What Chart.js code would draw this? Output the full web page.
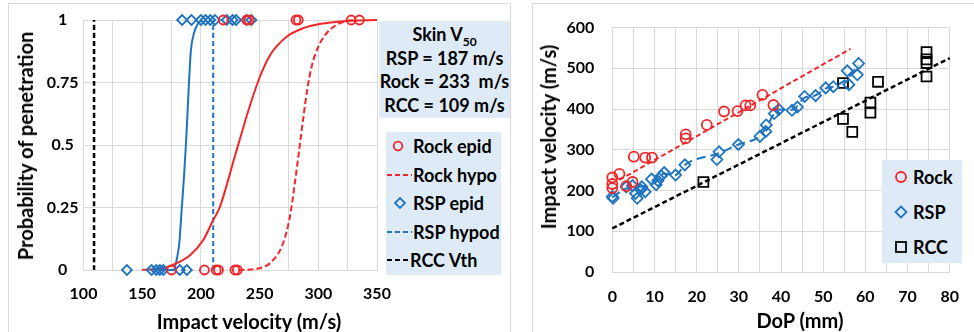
<!DOCTYPE html>
<html>
<head>
<meta charset="utf-8">
<script src="https://cdn.jsdelivr.net/npm/chart.js@4.4.1/dist/chart.umd.min.js"></script>
<style>
  body { margin:0; width:974px; height:332px; overflow:hidden; background:#fff;
         font-family: Lato, "Open Sans", sans-serif; font-weight:bold; color:#000; }
  .frame { position:absolute; border:1px solid #d9d9d9; box-sizing:border-box; }
  canvas { position:absolute; top:0; }
  .txt { position:absolute; white-space:nowrap; font-size:20px; }
  .rot { transform: translate(-50%,-50%) rotate(-90deg); }
  .ctr { transform: translate(-50%,-50%); }
  .box { position:absolute; background:#deebf7; }
  .row { position:absolute; white-space:nowrap; font-size:18px; line-height:20px; }
  .row svg { position:absolute; }
</style>
</head>
<body>
<div class="frame" style="left:8px;top:3px;width:503px;height:340px"></div>
<div class="frame" style="left:532px;top:3px;width:450px;height:340px"></div>

<canvas id="leftChart" width="520" height="332" style="left:0"></canvas>
<canvas id="rightChart" width="442" height="332" style="left:532px"></canvas>

<!-- axis titles -->
<div class="txt rot" style="left:25px;top:146px">Probability of penetration</div>
<div class="txt ctr" style="left:249px;top:321px">Impact velocity (m/s)</div>
<div class="txt rot" style="left:548px;top:137px">Impact velocity (m/s)</div>
<div class="txt ctr" style="left:800px;top:320px">DoP (mm)</div>

<!-- skin V50 box -->
<div class="box" style="left:379px;top:21px;width:131px;height:97px;text-align:center;font-size:18px;line-height:23.5px;padding-top:2px;box-sizing:border-box">
  Skin V<sub style="font-size:12px;line-height:0">50</sub><br>RSP = 187 m/s<br>Rock = 233&nbsp; m/s<br>RCC = 109 m/s
</div>

<!-- left legend -->
<div class="box" style="left:386px;top:132px;width:115px;height:143px"></div>
<div class="row" style="left:413px;top:136px">Rock epid
  <svg width="12" height="12" style="left:-21px;top:4px"><circle cx="6" cy="6" r="4.3" fill="none" stroke="#f0262a" stroke-width="1.8"/></svg></div>
<div class="row" style="left:413px;top:165px">Rock hypo
  <svg width="25" height="4" style="left:-26px;top:8px"><line x1="0" y1="2" x2="25" y2="2" stroke="#f0262a" stroke-width="2" stroke-dasharray="5,3"/></svg></div>
<div class="row" style="left:413px;top:193px">RSP epid
  <svg width="12" height="12" style="left:-19px;top:4px"><polygon points="6,1 11,6 6,11 1,6" fill="none" stroke="#1f74c0" stroke-width="1.8"/></svg></div>
<div class="row" style="left:413px;top:222px">RSP hypod
  <svg width="25" height="4" style="left:-26px;top:8px"><line x1="0" y1="2" x2="25" y2="2" stroke="#1f74c0" stroke-width="2" stroke-dasharray="5,3"/></svg></div>
<div class="row" style="left:410px;top:250px">RCC Vth
  <svg width="22" height="4" style="left:-23px;top:8px"><line x1="0" y1="2" x2="22" y2="2" stroke="#000" stroke-width="2" stroke-dasharray="5,3"/></svg></div>

<!-- right legend -->
<div class="box" style="left:882px;top:160px;width:80px;height:103px"></div>
<div class="row" style="left:913px;top:167px">Rock
  <svg width="14" height="14" style="left:-19px;top:3px"><circle cx="7" cy="7" r="5" fill="none" stroke="#f0262a" stroke-width="1.8"/></svg></div>
<div class="row" style="left:913px;top:202px">RSP
  <svg width="14" height="14" style="left:-19px;top:3px"><polygon points="7,1.5 12.5,7 7,12.5 1.5,7" fill="none" stroke="#1f74c0" stroke-width="1.8"/></svg></div>
<div class="row" style="left:913px;top:237px">RCC
  <svg width="14" height="14" style="left:-19px;top:3px"><rect x="2" y="2" width="10" height="10" fill="none" stroke="#000" stroke-width="1.8"/></svg></div>

<script>
// ---- left chart: probability of penetration vs impact velocity ----
const rockEpidV = [175, 203, 213, 215, 229, 231, 219, 239, 241, 281, 283, 328, 335];
const rockEpidP = [0, 0, 0, 0, 0, 0, 1, 1, 1, 1, 1, 1, 1];
const rspEpidV = [137, 158, 162, 165, 168, 182, 188, 184, 192, 200, 204, 208, 212, 222, 227, 230, 239, 243];
const rspEpidP = [0, 0, 0, 0, 0, 0, 0, 1, 1, 1, 1, 1, 1, 1, 1, 1, 1, 1];

// curves
const rockFitV = [150, 168, 176, 191, 202, 210.5, 216, 222, 228, 233, 238, 244, 250, 259, 273, 287, 301, 324, 350];
const rockFitP = [0, 0.007, 0.02, 0.06, 0.12, 0.2, 0.25, 0.34, 0.44, 0.52, 0.6, 0.69, 0.77, 0.86, 0.933, 0.967, 0.984, 0.996, 1];
const rockHypoV = [232, 250, 261.6, 270, 275.8, 280, 283.7, 287, 290.5, 294.3, 300, 307, 315.5, 324, 332];
const rockHypoP = [0, 0.007, 0.04, 0.107, 0.213, 0.347, 0.48, 0.6, 0.72, 0.813, 0.893, 0.947, 0.98, 0.996, 1];
const rspFitV = [160, 176.4, 179.3, 181.6, 183.6, 185.6, 187.3, 188.7, 190.1, 191.5, 194.1, 197.7, 201];
const rspFitP = [0, 0, 0.04, 0.107, 0.24, 0.373, 0.507, 0.64, 0.773, 0.88, 0.947, 0.987, 1];
const rspHypoV = [210.5, 210.5];
const rccVthV = [109, 109];
const vertP = [0, 1];
const probTicks = ['0', '0.25', '0.5', '0.75', '1'];

// ---- right chart: impact velocity vs DoP ----
const rockDoP = [0, 0, 0, 1.7, 3.3, 4.8, 5.1, 7.8, 9.4, 17.4, 17.4, 22.4, 26.5, 29.7, 31.6, 32.7, 35.6, 38.2];
const rockVel = [232, 216, 206, 241, 211, 221, 283, 281, 281, 338, 328, 361, 394, 395, 409, 409, 435, 410];
const rspDoP = [0, 0.2, 3.3, 4.8, 5.5, 5.9, 6.7, 7, 7.8, 9.3, 10.4, 10.8, 11.6, 12.3, 15, 17.2, 24.8, 25.3, 29.9,
                35, 36.4, 36.5, 38.4, 39.5, 42.6, 43.9, 45.6, 48.2, 50.6, 52.4, 55.7, 56.1, 58.1, 58.4];
const rspVel = [185, 181, 209, 212, 193, 181, 202, 209, 197, 228, 214, 224, 236, 244, 238, 263, 276, 295, 313,
                333, 345, 361, 389, 399, 397, 405, 431, 433, 452, 455, 494, 460, 484, 512];
const rccDoP = [21.6, 54.7, 54.7, 56.9, 61.2, 61.2, 63, 74.5, 74.5, 74.5, 74.5];
const rccVel = [221, 464, 376, 344, 416, 391, 467, 540, 522, 513, 480];
const rockLineDoP = [1.7, 56.5];
const rockLineVel = [226, 548];
const rspLineDoP = [0, 3.3, 7, 10.4, 12.3, 15, 17.2, 25.3, 29.9, 35, 36.5, 38.4, 39.5, 42.6, 45.6, 48.2, 50.6, 52.4, 55.7, 58.4];
const rspLineVel = [183, 205, 210, 222, 242, 238, 263, 292, 313, 334, 355, 389, 399, 398, 428, 434, 451, 455, 475, 508];
const rccLineDoP = [0, 80];
const rccLineVel = [107, 525];

const RED = '#f0262a', BLUE = '#1f74c0', GRID = '#d9d9d9';
const tickFont = {family: 'Lato', size: 16, weight: 'bold'};

function pts(xs, ys) {
  return xs.map(function(x, i) { return {x: x, y: ys[i]}; });
}
function marks(data, style, r, color) {
  return {data: data, pointStyle: style, pointRadius: r, borderColor: color,
          backgroundColor: 'rgba(0,0,0,0)', borderWidth: 1.8, showLine: false, clip: false};
}
function curve(data, color, width, dash) {
  return {data: data, showLine: true, pointRadius: 0, borderColor: color, borderWidth: width,
          borderDash: dash, cubicInterpolationMode: 'monotone', clip: false};
}

new Chart('leftChart', {
  type: 'scatter',
  data: {
    datasets: [
      marks(pts(rockEpidV, rockEpidP), 'circle', 4.5, RED),
      marks(pts(rspEpidV, rspEpidP), 'rectRot', 5, BLUE),
      curve(pts(rockFitV, rockFitP), RED, 2, []),
      curve(pts(rockHypoV, rockHypoP), RED, 2, [6, 3]),
      curve(pts(rspFitV, rspFitP), BLUE, 2, []),
      curve(pts(rspHypoV, vertP), BLUE, 2, [5, 3]),
      curve(pts(rccVthV, vertP), '#000', 2.5, [5, 3])
    ]
  },
  options: {
    responsive: false, animation: false, events: [],
    layout: {padding: {left: 0, top: 20, right: 143, bottom: 0}},
    plugins: {legend: {display: false}, tooltip: {enabled: false}},
    scales: {
      x: {
        type: 'linear', min: 100, max: 350,
        ticks: {stepSize: 25, autoSkip: false, maxRotation: 0, padding: 14, color: '#000', font: tickFont,
                callback: function(v) { return v % 50 === 0 ? v : ''; }},
        grid: {color: GRID, drawTicks: false}, border: {color: GRID},
        afterFit: function(s) { s.height = 62; }
      },
      y: {
        min: 0, max: 1,
        afterBuildTicks: function(s) {
          s.ticks = probTicks.map(function(t) { return {value: Number(t)}; });
        },
        ticks: {autoSkip: false, crossAlign: 'center', padding: 5, color: '#000', font: tickFont,
                callback: function(v, i) { return probTicks[i]; }},
        grid: {color: GRID, drawTicks: false}, border: {color: GRID},
        afterFit: function(s) { s.width = 83.5; }
      }
    }
  }
});

new Chart('rightChart', {
  type: 'scatter',
  data: {
    datasets: [
      marks(pts(rockDoP, rockVel), 'circle', 5, RED),
      marks(pts(rspDoP, rspVel), 'rectRot', 5.5, BLUE),
      marks(pts(rccDoP, rccVel), 'rect', 7, '#000'),
      curve(pts(rockLineDoP, rockLineVel), RED, 2, [5, 3]),
      curve(pts(rspLineDoP, rspLineVel), BLUE, 2, [9, 5]),
      curve(pts(rccLineDoP, rccLineVel), '#000', 2.5, [5, 3])
    ]
  },
  options: {
    responsive: false, animation: false, events: [],
    layout: {padding: {left: 0, top: 17, right: 9, bottom: 0}},
    plugins: {legend: {display: false}, tooltip: {enabled: false}},
    scales: {
      x: {
        type: 'linear', min: 0, max: 80,
        ticks: {stepSize: 5, autoSkip: false, maxRotation: 0, padding: 15, color: '#000', font: tickFont,
                callback: function(v) { return v % 10 === 0 ? v : ''; }},
        grid: {color: GRID, drawTicks: false}, border: {color: GRID},
        afterFit: function(s) { s.height = 60; }
      },
      y: {
        min: 0, max: 600,
        ticks: {stepSize: 100, padding: 18, color: '#000', font: tickFont},
        grid: {color: GRID, drawTicks: false}, border: {color: GRID},
        afterFit: function(s) { s.width = 80.3; }
      }
    }
  }
});
</script>
</body>
</html>
